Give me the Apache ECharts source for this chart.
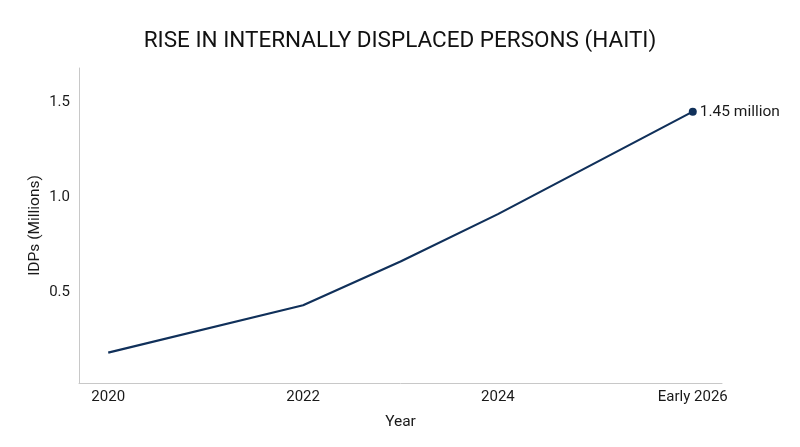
<!DOCTYPE html>
<html>
<head>
<meta charset="utf-8">
<script src="https://cdn.jsdelivr.net/npm/echarts@6/dist/echarts.min.js"></script>
<style>html,body{margin:0;padding:0;background:#fff;}#c{width:800px;height:447px;}</style>
</head>
<body>
<div id="c"></div>
<script>
const years = [2020, 2022, 2023, 2024, 2026];
const idps = [0.18, 0.43, 0.66, 0.91, 1.45];
const xTickValues = [2020, 2022, 2024, 2026];
const xTickLabels = {2020: '2020', 2022: '2022', 2024: '2024', 2026: 'Early 2026'};
const yTickValues = [0.5, 1.0, 1.5];
const endLabel = '1.45 million';

const lineColor = '#10305a';
const font = 'Roboto';
const chart = echarts.init(document.getElementById('c'));
const data = years.map((y, i) => ({
  value: [y, idps[i]],
  symbol: i === years.length - 1 ? 'circle' : 'none',
  symbolSize: 8,
  label: i === years.length - 1 ? {show: true, position: 'right', distance: 3, formatter: endLabel,
    color: '#1a1a1a', fontSize: 15.5, fontFamily: font} : {show: false}
}));
chart.setOption({
  animation: false,
  backgroundColor: '#fff',
  title: {text: 'RISE IN INTERNALLY DISPLACED PERSONS (HAITI)', left: 'center', top: 25,
    textStyle: {fontFamily: font, fontSize: 22.5, fontWeight: 'normal', color: '#111'}},
  grid: {left: 79, right: 78, top: 68, bottom: 64},
  xAxis: {
    type: 'value', min: 2019.7, max: 2026.3,
    name: 'Year', nameLocation: 'middle', nameGap: 31, nameMoveOverlap: false,
    nameTextStyle: {fontFamily: font, fontSize: 15.5, color: '#1a1a1a'},
    axisLine: {show: true, lineStyle: {color: '#c8c8c8', width: 1}},
    axisTick: {show: false},
    splitLine: {show: false},
    axisLabel: {customValues: xTickValues, formatter: v => xTickLabels[v] || '', margin: 7,
      fontFamily: font, fontSize: 15, color: '#1a1a1a', showMinLabel: true, showMaxLabel: true}
  },
  yAxis: {
    type: 'value', min: 0.02, max: 1.68,
    name: 'IDPs (Millions)', nameLocation: 'middle', nameGap: 36, nameMoveOverlap: false,
    nameTextStyle: {fontFamily: font, fontSize: 15.5, color: '#1a1a1a'},
    axisLine: {show: true, lineStyle: {color: '#c8c8c8', width: 1}},
    axisTick: {show: false},
    splitLine: {show: false},
    axisLabel: {customValues: yTickValues, formatter: v => v.toFixed(1), margin: 9,
      fontFamily: font, fontSize: 15, color: '#1a1a1a'}
  },
  series: [{
    type: 'line', data: data,
    lineStyle: {color: lineColor, width: 2.2},
    itemStyle: {color: lineColor},
    showAllSymbol: true
  }]
});
</script>
</body>
</html>
